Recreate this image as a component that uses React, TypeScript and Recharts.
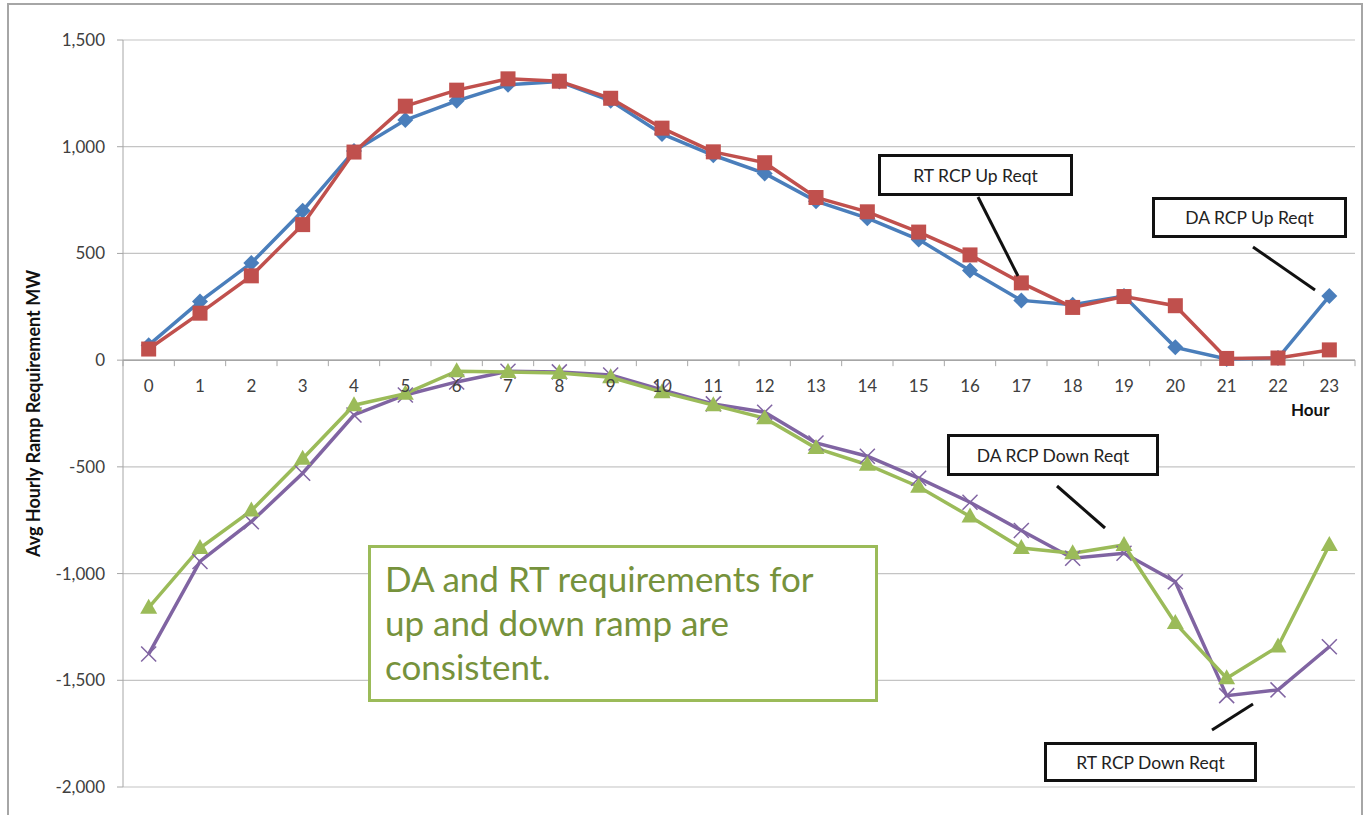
import { LineChart, Line, XAxis, YAxis, CartesianGrid, ReferenceLine } from 'recharts';

// hour of day
const hours = ['0', '1', '2', '3', '4', '5', '6', '7', '8', '9', '10', '11', '12', '13', '14', '15', '16', '17', '18', '19', '20', '21', '22', '23'];

// MW
const daUp = [70, 275, 455, 700, 980, 1125, 1215, 1290, 1305, 1215, 1060, 960, 875, 745, 665, 565, 420, 280, 260, 300, 60, 5, 10, 300];
const rtUp = [52, 220, 395, 635, 975, 1190, 1265, 1318, 1307, 1227, 1087, 976, 925, 762, 695, 600, 493, 362, 247, 298, 255, 8, 10, 48];
const daDown = [-1160, -880, -705, -462, -211, -157, -52, -56, -60, -80, -150, -211, -272, -412, -490, -593, -733, -880, -905, -866, -1232, -1490, -1342, -866];
const rtDown = [-1377, -943, -757, -530, -257, -163, -102, -52, -55, -70, -140, -205, -244, -388, -450, -553, -666, -798, -928, -905, -1038, -1572, -1545, -1343];

const yTicks = [-2000, -1500, -1000, -500, 0, 500, 1000, 1500];

const data = hours.map((h, i) => ({
  hour: h,
  daUp: daUp[i],
  rtUp: rtUp[i],
  daDown: daDown[i],
  rtDown: rtDown[i],
}));

const W = 1367;
const H = 815;
const margin = { top: 40, right: 12, bottom: 0, left: 53 };
const Y_AXIS_W = 70;
const X_AXIS_H = 28;
const Y_MAX = 1500;
const Y_MIN = -2000;
const PLOT_H = H - margin.top - margin.bottom - X_AXIS_H;
const PLOT_W = W - margin.left - Y_AXIS_W - margin.right;
const BAND = PLOT_W / hours.length;
const ZERO_Y = margin.top + (PLOT_H * Y_MAX) / (Y_MAX - Y_MIN);

const FONT = 'Lato, "Open Sans", sans-serif';
const AXIS_GRAY = '#a6a6a6';

const BLUE = '#4a7ebb';
const RED = '#c0504d';
const GREEN = '#9bbb59';
const PURPLE = '#8064a2';

// x labels sit under the zero line, like Excel's crossing axis
const HourTick = (props: any) => {
  const { x, payload, index } = props;
  return (
    <g>
      {index === 0 && <line x1={x - BAND / 2} x2={x - BAND / 2} y1={ZERO_Y} y2={ZERO_Y + 6} stroke={AXIS_GRAY} />}
      <line x1={x + BAND / 2} x2={x + BAND / 2} y1={ZERO_Y} y2={ZERO_Y + 6} stroke={AXIS_GRAY} />
      <text x={x} y={ZERO_Y + 32} textAnchor="middle" fill="#404040" fontSize={17} fontFamily={FONT}>
        {payload.value}
      </text>
    </g>
  );
};

const Diamond = (p: any) => {
  const { cx, cy } = p;
  return <polygon key={p.key} points={`${cx},${cy - 8} ${cx + 8},${cy} ${cx},${cy + 8} ${cx - 8},${cy}`} fill={BLUE} />;
};

const Square = (p: any) => {
  const { cx, cy } = p;
  return <rect key={p.key} x={cx - 7.5} y={cy - 7.5} width={15} height={15} fill={RED} />;
};

const Triangle = (p: any) => {
  const { cx, cy } = p;
  return <polygon key={p.key} points={`${cx},${cy - 9} ${cx + 8.5},${cy + 6} ${cx - 8.5},${cy + 6}`} fill={GREEN} />;
};

const Cross = (p: any) => {
  const { cx, cy } = p;
  const s = 7.5;
  return (
    <g key={p.key}>
      <line x1={cx - s} y1={cy - s} x2={cx + s} y2={cy + s} stroke={PURPLE} strokeWidth={1.5} />
      <line x1={cx - s} y1={cy + s} x2={cx + s} y2={cy - s} stroke={PURPLE} strokeWidth={1.5} />
    </g>
  );
};

const calloutBox = (left: number, top: number, width: number, height: number): React.CSSProperties => ({
  position: 'absolute',
  left,
  top,
  width,
  height,
  boxSizing: 'border-box',
  border: '3px solid #111',
  background: '#fff',
  display: 'flex',
  alignItems: 'center',
  justifyContent: 'center',
  fontFamily: FONT,
  fontSize: 17.5,
  color: '#222',
});

export default function App() {
  return (
    <div style={{ position: 'absolute', left: 0, top: 0, width: W, height: H, background: '#fff', overflow: 'hidden' }}>
      <div
        style={{
          position: 'absolute',
          left: 7,
          top: 3,
          width: 1356,
          height: 840,
          boxSizing: 'border-box',
          border: `2px solid ${AXIS_GRAY}`,
        }}
      />
      <div style={{ position: 'absolute', left: 0, top: 0 }}>
        <LineChart width={W} height={H} data={data} margin={margin}>
          <CartesianGrid vertical={false} stroke="#c4c4c4" strokeWidth={1.2} />
          <XAxis
            dataKey="hour"
            height={X_AXIS_H}
            interval={0}
            padding={{ left: BAND / 2, right: BAND / 2 }}
            axisLine={false}
            tickLine={false}
            tick={<HourTick />}
          />
          <YAxis
            width={Y_AXIS_W}
            domain={[Y_MIN, Y_MAX]}
            ticks={yTicks}
            allowDataOverflow
            stroke={AXIS_GRAY}
            tickSize={6}
            tickMargin={12}
            tickFormatter={(v: number) => v.toLocaleString('en-US')}
            tick={{ fill: '#404040', fontSize: 17, fontFamily: FONT }}
            label={{
              value: 'Avg Hourly Ramp Requirement MW',
              angle: -90,
              position: 'insideLeft',
              dx: -24,
              style: { textAnchor: 'middle', fontFamily: FONT, fontWeight: 700, fontSize: 18, fill: '#111' },
            }}
          />
          <ReferenceLine y={0} stroke={AXIS_GRAY} strokeWidth={1.5} />
          <Line dataKey="daUp" stroke={BLUE} strokeWidth={3.5} dot={Diamond} isAnimationActive={false} />
          <Line dataKey="rtUp" stroke={RED} strokeWidth={3.5} dot={Square} isAnimationActive={false} />
          <Line dataKey="rtDown" stroke={PURPLE} strokeWidth={3.5} dot={Cross} isAnimationActive={false} />
          <Line dataKey="daDown" stroke={GREEN} strokeWidth={3.5} dot={Triangle} isAnimationActive={false} />
        </LineChart>
      </div>

      <div style={{ position: 'absolute', left: 1291, top: 399, fontFamily: FONT, fontWeight: 700, fontSize: 17, color: '#111' }}>
        Hour
      </div>

      <svg width={W} height={H} style={{ position: 'absolute', left: 0, top: 0, pointerEvents: 'none' }}>
        <line x1={978} y1={197} x2={1018} y2={276} stroke="#111" strokeWidth={3} />
        <line x1={1253} y1={247} x2={1315} y2={290} stroke="#111" strokeWidth={3} />
        <line x1={1057} y1={486} x2={1105} y2={528} stroke="#111" strokeWidth={3} />
        <line x1={1212} y1={730} x2={1253} y2={704} stroke="#111" strokeWidth={3} />
      </svg>

      <div style={calloutBox(878, 154, 195, 42)}>RT RCP Up Reqt</div>
      <div style={calloutBox(1152, 197, 195, 41)}>DA RCP Up Reqt</div>
      <div style={calloutBox(947, 434, 212, 42)}>DA RCP Down Reqt</div>
      <div style={calloutBox(1044, 742, 213, 40)}>RT RCP Down Reqt</div>

      <div
        style={{
          position: 'absolute',
          left: 368,
          top: 545,
          width: 510,
          height: 157,
          boxSizing: 'border-box',
          border: `3px solid ${GREEN}`,
          background: '#fff',
          padding: '8px 0 0 14px',
          fontFamily: FONT,
          fontSize: 35,
          lineHeight: '44px',
          color: '#76923c',
        }}
      >
        DA and RT requirements for
        <br />
        up and down ramp are
        <br />
        consistent.
      </div>
    </div>
  );
}
